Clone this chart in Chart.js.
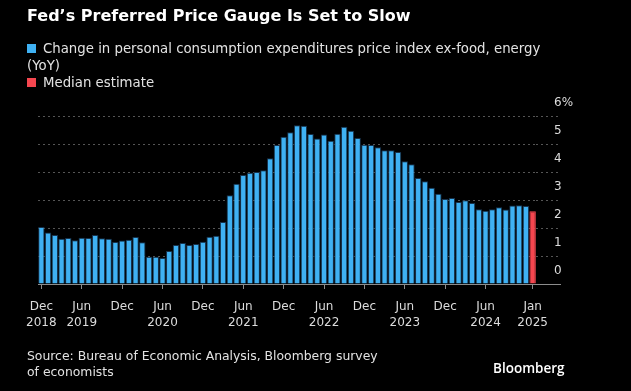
<!DOCTYPE html>
<html>
<head>
<meta charset="utf-8">
<script src="https://cdn.jsdelivr.net/npm/chart.js@4.4.1/dist/chart.umd.min.js"></script>
<style>
  html, body { margin: 0; padding: 0; background: #000; }
  #wrap { position: relative; width: 631px; height: 391px; overflow: hidden; background: #000;
    font-family: "DejaVu Sans", sans-serif; color: #e2e2e2; }
  #chart { position: absolute; left: 0; top: 0; }
  .txt { position: absolute; white-space: nowrap; }
  #title { left: 27px; top: 5px; font-size: 16px; font-weight: bold; color: #fff; line-height: 22px; }
  .leg { left: 27px; font-size: 13.3px; line-height: 17px; }
  .sw { display: inline-block; width: 9px; height: 9px; margin-right: 7px; vertical-align: 0px; }
  #src { left: 27px; top: 348px; font-size: 12.4px; line-height: 16px; }
  #brand { left: 493px; top: 359px; font-family: "Open Sans", sans-serif; font-weight: 600; font-size: 13.5px; color: #fff; }
</style>
</head>
<body>
<div id="wrap">
  <canvas id="chart" width="631" height="391"></canvas>
  <div id="title" class="txt">Fed’s Preferred Price Gauge Is Set to Slow</div>
  <div class="txt leg" style="top:40px"><span class="sw" style="background:#3fb1f3"></span>Change in personal consumption expenditures price index ex-food, energy</div>
  <div class="txt leg" style="top:57px">(YoY)</div>
  <div class="txt leg" style="top:74px"><span class="sw" style="background:#f5464f"></span>Median estimate</div>
  <div id="src" class="txt">Source: Bureau of Economic Analysis, Bloomberg survey<br>of economists</div>
  <div id="brand" class="txt">Bloomberg</div>
</div>
<script>
const months = [
  'Dec 2018',
  'Jan 2019', 'Feb 2019', 'Mar 2019', 'Apr 2019', 'May 2019', 'Jun 2019', 'Jul 2019', 'Aug 2019', 'Sep 2019', 'Oct 2019', 'Nov 2019', 'Dec 2019',
  'Jan 2020', 'Feb 2020', 'Mar 2020', 'Apr 2020', 'May 2020', 'Jun 2020', 'Jul 2020', 'Aug 2020', 'Sep 2020', 'Oct 2020', 'Nov 2020', 'Dec 2020',
  'Jan 2021', 'Feb 2021', 'Mar 2021', 'Apr 2021', 'May 2021', 'Jun 2021', 'Jul 2021', 'Aug 2021', 'Sep 2021', 'Oct 2021', 'Nov 2021', 'Dec 2021',
  'Jan 2022', 'Feb 2022', 'Mar 2022', 'Apr 2022', 'May 2022', 'Jun 2022', 'Jul 2022', 'Aug 2022', 'Sep 2022', 'Oct 2022', 'Nov 2022', 'Dec 2022',
  'Jan 2023', 'Feb 2023', 'Mar 2023', 'Apr 2023', 'May 2023', 'Jun 2023', 'Jul 2023', 'Aug 2023', 'Sep 2023', 'Oct 2023', 'Nov 2023', 'Dec 2023',
  'Jan 2024', 'Feb 2024', 'Mar 2024', 'Apr 2024', 'May 2024', 'Jun 2024', 'Jul 2024', 'Aug 2024', 'Sep 2024', 'Oct 2024', 'Nov 2024', 'Dec 2024',
  'Jan 2025'
];

// core PCE, YoY %
const corePce = [
  2.04,
  1.84, 1.75, 1.62, 1.64, 1.56, 1.65, 1.64, 1.75, 1.63, 1.62, 1.50, 1.55,
  1.58, 1.68, 1.49, 0.97, 0.97, 0.93, 1.18, 1.39, 1.46, 1.39, 1.43, 1.51,
  1.69, 1.72, 2.21, 3.17, 3.58, 3.89, 3.97, 4.00, 4.06, 4.49, 4.96, 5.26,
  5.42, 5.67, 5.65, 5.36, 5.20, 5.34, 5.12, 5.37, 5.62, 5.47, 5.21, 4.97,
  4.96, 4.88, 4.78, 4.78, 4.71, 4.38, 4.28, 3.79, 3.67, 3.44, 3.22, 3.04,
  3.07, 2.93, 2.99, 2.89, 2.67, 2.62, 2.67, 2.74, 2.66, 2.80, 2.81, 2.79
];
const medianEstimate = 2.60;

const tickMonths = ['Dec 2018', 'Jun 2019', 'Dec 2019', 'Jun 2020', 'Dec 2020', 'Jun 2021', 'Dec 2021',
  'Jun 2022', 'Dec 2022', 'Jun 2023', 'Dec 2023', 'Jun 2024', 'Jan 2025'];
const tickText = [['Dec', '2018'], ['Jun', '2019'], ['Dec', ''], ['Jun', '2020'], ['Dec', ''], ['Jun', '2021'], ['Dec', ''],
  ['Jun', '2022'], ['Dec', ''], ['Jun', '2023'], ['Dec', ''], ['Jun', '2024'], ['Jan', '2025']];
const yTicks = [0, 1, 2, 3, 4, 5, 6];

const axisFont = { family: '"DejaVu Sans", sans-serif', size: 12, lineHeight: '16px' };
const estimateData = months.map((m, i) => i === months.length - 1 ? medianEstimate : null);

new Chart(document.getElementById('chart'), {
  type: 'bar',
  data: {
    labels: months,
    datasets: [{
      label: 'Change in personal consumption expenditures price index ex-food, energy (YoY)',
      data: corePce,
      backgroundColor: '#3fb1f3',
      borderColor: '#17324c',
      borderWidth: 1,
      grouped: false,
      barPercentage: 0.95,
      categoryPercentage: 1
    }, {
      label: 'Median estimate',
      data: estimateData,
      backgroundColor: '#f5464f',
      borderColor: '#f5464f',
      borderWidth: 1,
      grouped: false,
      barPercentage: 0.95,
      categoryPercentage: 1
    }]
  },
  options: {
    responsive: false,
    animation: false,
    layout: { padding: { left: 38, top: 116, right: 0, bottom: 57 } },
    plugins: { legend: { display: false }, tooltip: { enabled: false } },
    scales: {
      x: {
        afterFit: s => { s.height = 50; },
        border: { display: false },
        grid: {
          offset: false,
          drawOnChartArea: false,
          tickLength: 5,
          tickColor: ctx => tickMonths.includes(months[ctx.index]) ? '#8c8c8c' : 'rgba(0,0,0,0)'
        },
        ticks: {
          autoSkip: false,
          maxRotation: 0,
          padding: 10,
          color: '#dcdcdc',
          font: axisFont,
          callback: (v, i) => {
            const k = tickMonths.indexOf(months[i]);
            return k >= 0 ? tickText[k] : '';
          }
        }
      },
      y: {
        position: 'right',
        min: 0,
        max: 6,
        afterFit: s => { s.width = 95; },
        afterBuildTicks: s => { s.ticks = yTicks.map(v => ({ value: v })); },
        border: { display: false, dash: ctx => ctx.tick && ctx.tick.value === 0 ? [] : [2, 3] },
        grid: {
          color: ctx => ctx.tick.value === 0 ? '#8c8c8c' : '#555555',
          tickColor: ctx => ctx.tick.value === 0 ? '#8c8c8c' : '#555555',
          tickBorderDash: ctx => ctx.tick.value === 0 ? [] : [2, 3],
          tickLength: 25
        },
        ticks: {
          padding: -7,
          labelOffset: -13,
          color: '#dcdcdc',
          font: axisFont,
          callback: v => v === 6 ? '6%' : String(v)
        }
      }
    }
  }
});
</script>
</body>
</html>
